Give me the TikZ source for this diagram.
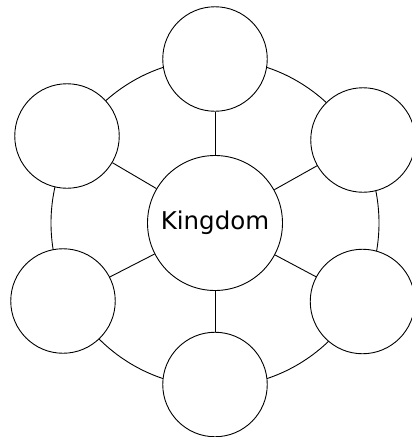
\documentclass[tikz,border=0pt]{standalone}
\usepackage{fontspec}
\setmainfont{DejaVu Sans}
\begin{document}
\begin{tikzpicture}[x=1pt,y=-1pt,
  line width=0.9pt,
  small/.style={circle,draw,fill=white,minimum size=104.5pt,inner sep=0pt},
  hub/.style={circle,draw,fill=white,minimum size=135pt,inner sep=0pt,font=\fontsize{24.5}{29}\selectfont}]
\useasboundingbox (0,0) rectangle (412,437);
\clip (0,0) rectangle (412,437);
\coordinate (c0) at (215,223);
\draw (c0) circle (164);
\node[small] (t)  at (215,59) {};
\node[small] (ur) at (363,140) {};
\node[small] (lr) at (362.5,301.5) {};
\node[small] (b)  at (215,384.5) {};
\node[small] (ll) at (63,301) {};
\node[small] (ul) at (67,136) {};
\node[hub] (k) at (c0) {Kingdom};
\foreach \n in {t,ur,lr,b,ll,ul}
  \draw (k) -- (\n);
\end{tikzpicture}
\end{document}
